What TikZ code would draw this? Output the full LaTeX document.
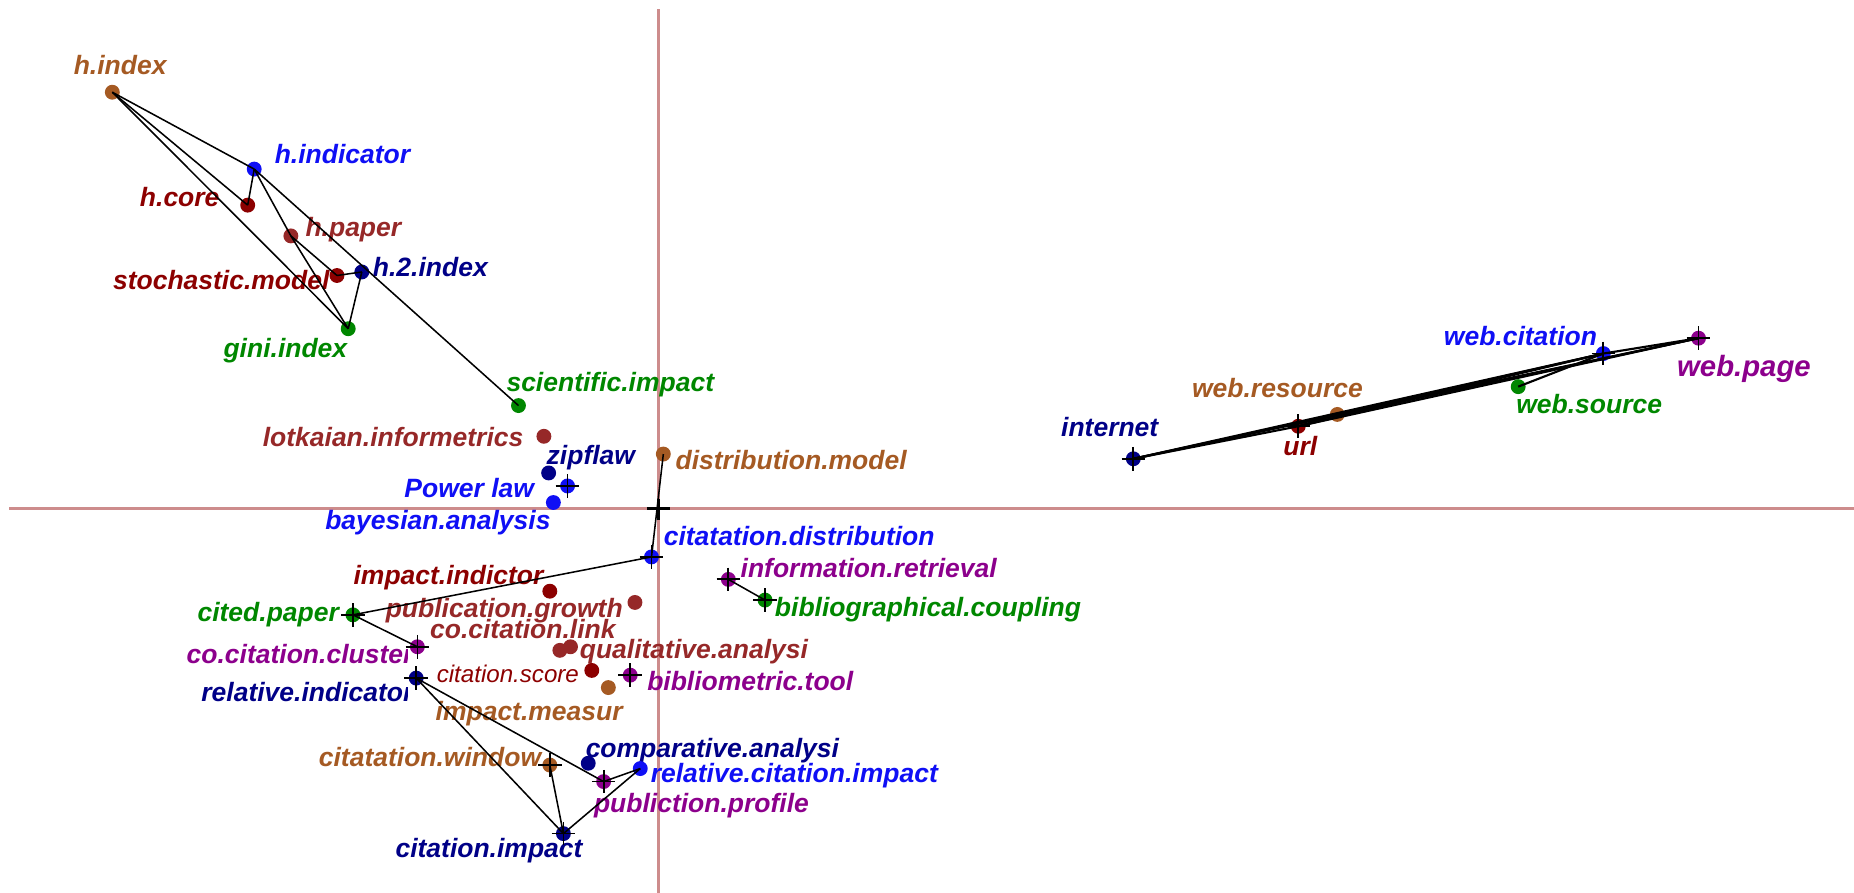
\documentclass[tikz,border=0pt]{standalone}
\usepackage{fontspec}
\setmainfont{Liberation Sans}
\definecolor{axisc}{RGB}{205,140,140}
\definecolor{corange}{RGB}{165,90,35}
\definecolor{cblue}{RGB}{15,15,245}
\definecolor{cnavy}{RGB}{0,0,135}
\definecolor{cdarkred}{RGB}{140,0,0}
\definecolor{cbrownred}{RGB}{150,40,40}
\definecolor{cgreen}{RGB}{0,135,0}
\definecolor{cpurple}{RGB}{140,0,140}
\begin{document}
\begin{tikzpicture}[x=0.5pt,y=-0.5pt,
  dot/.style={circle,fill=#1,draw=none,inner sep=0pt,minimum size=6.3pt},
  lbl/.style={text=#1,inner sep=0pt,font=\fontsize{11.2}{13}\selectfont\bfseries\itshape},
  lw/.style={lbl=#1,anchor=base west},
  le/.style={lbl=#1,anchor=base east},
  link/.style={draw=black,line width=0.65pt},
  weblink/.style={draw=black,line width=0.9pt},
  tick/.style={draw=black,line width=0.75pt},
  axis/.style={draw=axisc,line width=1pt}]
\useasboundingbox (0,0) rectangle (1568,755);

% axes of the factorial plane
\coordinate (vtop) at (557,8);
\coordinate (vbot) at (557,755);
\coordinate (hleft) at (8,430);
\coordinate (hright) at (1568,430);
\coordinate (origin) at (557,430);
\draw[axis] (vtop) -- (vbot);
\draw[axis] (hleft) -- (hright);

% labels
\node[lw=corange]   (lhindex)      at (62,63)    {h.index};
\node[lw=cblue]     (lhindicator)  at (232,138)  {h.indicator};
\node[le=cdarkred]  (lhcore)       at (186,175)  {h.core};
\node[lw=cbrownred] (lhpaper)      at (258,200)  {h.paper};
\node[le=cdarkred]  (lstoch)       at (279,245)  {stochastic.model};
\node[lw=cnavy]     (lhtwoindex)   at (315,234)  {h.2.index};
\node[le=cgreen]    (lgini)        at (294,302)  {gini.index};
\node[lw=cgreen]    (lscientific)  at (428,331)  {scientific.impact};
\node[le=cbrownred] (llotkaian)    at (443,378)  {lotkaian.informetrics};
\node[lw=cnavy]     (lzipflaw)     at (462,393)  {zipflaw};
\node[le=cblue]     (lpowerlaw)    at (452,421)  {Power law};
\node[le=cblue]     (lbayesian)    at (466,448)  {bayesian.analysis};
\node[lw=corange]   (ldistmodel)   at (571,397)  {distribution.model};
\node[lw=cblue]     (lcitdist)     at (561,461)  {citatation.distribution};
\node[lw=cpurple]   (linforetr)    at (626,488)  {information.retrieval};
\node[le=cdarkred]  (limpindictor) at (460,494)  {impact.indictor};
\node[lw=cgreen]    (lbibcoup)     at (655,521)  {bibliographical.coupling};
\node[le=cbrownred] (lpubgrowth)   at (527,522)  {publication.growth};
\node[le=cgreen]    (lcitedpaper)  at (287,526)  {cited.paper};
\node[le=cbrownred] (lcocitlink)   at (521,540)  {co.citation.link};
\node[lw=cbrownred] (lqualitative) at (490,557)  {qualitative.analysi};
\begin{scope}
  \clip (100,530) rectangle (345,600);
  \node[le=cpurple] (lcocitcluster) at (350,561) {co.citation.cluster};
  \node[le=cnavy]   (lrelind)       at (350,593) {relative.indicator};
\end{scope}
\node[le=cdarkred,font=\fontsize{10.2}{12}\selectfont\itshape] (lcitscore) at (490,577) {citation.score};
\node[lw=cpurple]   (lbiblitool)   at (547,584)  {bibliometric.tool};
\node[le=corange]   (limpmeasur)   at (527,609)  {impact.measur};
\node[le=corange]   (lcitwindow)   at (458,648)  {citatation.window};
\node[lw=cnavy]     (lcomparative) at (495,641)  {comparative.analysi};
\node[lw=cblue]     (lrelcitimpact) at (550,662) {relative.citation.impact};
\node[lw=cpurple]   (lpublprofile) at (502,687)  {publiction.profile};
\node[le=cnavy]     (lcitimpact)   at (493,725)  {citation.impact};
\node[le=cnavy]     (linternet)    at (980,369)  {internet};
\node[lw=cdarkred]  (lurl)         at (1085,385) {url};
\node[le=corange]   (lwebresource) at (1153,336) {web.resource};
\node[lw=cgreen]    (lwebsource)   at (1282,350) {web.source};
\node[le=cblue]     (lwebcitation) at (1351,292) {web.citation};
\node[lw=cpurple,font=\fontsize{12.4}{14}\selectfont\bfseries\itshape] (lwebpage) at (1418,318) {web.page};

% points
\node[dot=corange]   (hindex)      at (95,78) {};
\node[dot=cblue]     (hindicator)  at (215,143) {};
\node[dot=cdarkred]  (hcore)       at (209.5,173.5) {};
\node[dot=cbrownred] (hpaper)      at (246,199.5) {};
\node[dot=cdarkred]  (stoch)       at (285,233) {};
\node[dot=cnavy]     (htwoindex)   at (306,230) {};
\node[dot=cgreen]    (gini)        at (294.5,278) {};
\node[dot=cgreen]    (scientific)  at (438.5,343) {};
\node[dot=cbrownred] (lotkaian)    at (460,369) {};
\node[dot=cnavy]     (zipflaw)     at (464,400) {};
\node[dot=cblue]     (powerlaw)    at (480,411) {};
\node[dot=cblue]     (bayesian)    at (468,425) {};
\node[dot=corange]   (distmodel)   at (561,384) {};
\node[dot=cblue]     (citdist)     at (551,471) {};
\node[dot=cpurple]   (inforetr)    at (616,490) {};
\node[dot=cgreen]    (bibcoup)     at (647,507.5) {};
\node[dot=cdarkred]  (impindictor) at (465,500) {};
\node[dot=cbrownred] (pubgrowth)   at (537,509.5) {};
\node[dot=cgreen]    (citedpaper)  at (298.5,520) {};
\node[dot=cpurple]   (cocitcluster) at (353,547) {};
\node[dot=cbrownred] (qualitative) at (473.5,550) {};
\node[dot=cbrownred] (cocitlink)   at (482.5,547) {};
\node[dot=cnavy]     (relind)      at (352,573.5) {};
\node[dot=cdarkred]  (citscore)    at (500.5,567) {};
\node[dot=cpurple]   (biblitool)   at (533,571) {};
\node[dot=corange]   (impmeasur)   at (514.5,581.5) {};
\node[dot=corange]   (citwindow)   at (465,647) {};
\node[dot=cnavy]     (comparative) at (497.5,645.5) {};
\node[dot=cblue]     (relcitimpact) at (541.5,650) {};
\node[dot=cpurple]   (publprofile) at (510.5,661) {};
\node[dot=cnavy]     (citimpact)   at (476.5,705) {};
\node[dot=cnavy]     (internet)    at (958.5,388) {};
\node[dot=cdarkred]  (url)         at (1098,360.5) {};
\node[dot=corange]   (webresource) at (1131,350.5) {};
\node[dot=cgreen]    (websource)   at (1284,327) {};
\node[dot=cblue]     (webcitation) at (1356,299) {};
\node[dot=cpurple]   (webpage)     at (1436.5,286) {};

% links between points
\foreach \a/\b in {hindex/hindicator, hindex/hcore, hindex/gini,
    hindicator/hcore, hindicator/hpaper, hindicator/scientific,
    hpaper/gini, hpaper/stoch, stoch/htwoindex, htwoindex/gini,
    distmodel/citdist, citdist/citedpaper, citedpaper/cocitcluster,
    inforetr/bibcoup,
    relind/citimpact, relind/publprofile, citwindow/citimpact,
    citimpact/relcitimpact, publprofile/relcitimpact}
  \draw[link] (\a.center) -- (\b.center);

% the web group: a dense bundle of links
\foreach \a/\b in {internet/url, internet/webresource, internet/webcitation,
    internet/webpage, url/webresource, url/webcitation, url/webpage,
    webresource/webcitation, webresource/webpage,
    websource/webcitation, webcitation/webpage}
  \draw[weblink] (\a.center) -- (\b.center);

% supplementary points are marked with a cross
\foreach \p in {powerlaw, citdist, inforetr, bibcoup, citedpaper, cocitcluster,
    relind, biblitool, citwindow, publprofile, citimpact,
    internet, url, webcitation, webpage}
  \draw[tick] (\p.center) ++(-10,0) -- ++(20,0) (\p.center) ++(0,-10) -- ++(0,20);

% centre of the plane
\draw[line width=1.6pt] (origin) ++(-10,0) -- ++(20,0);
\draw[line width=1.6pt] (origin) ++(0,-8) -- ++(0,18);
\end{tikzpicture}
\end{document}
